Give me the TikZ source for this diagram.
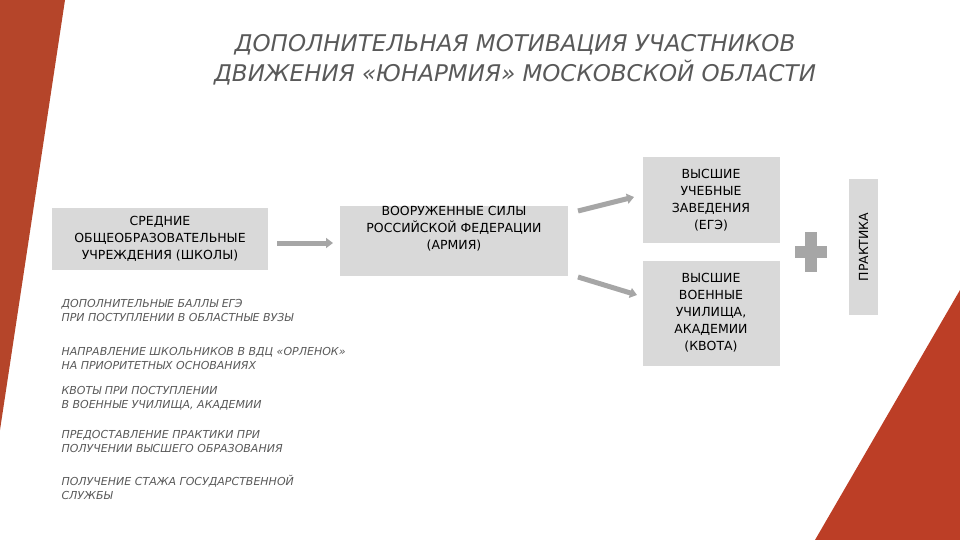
\documentclass[tikz,border=0pt]{standalone}
\usepackage{fontspec}
\setmainfont{DejaVu Sans}
\usetikzlibrary{arrows.meta}
\definecolor{rust}{HTML}{B5452A}
\definecolor{boxg}{HTML}{D9D9D9}
\definecolor{arrg}{HTML}{A6A6A6}
\definecolor{txtg}{HTML}{595959}
\begin{document}
\begin{tikzpicture}[x=1pt,y=-1pt,
  gbox/.style={fill=boxg,inner sep=0pt,align=center,text=black,font=\fontsize{12.5}{17}\selectfont},
  arr/.style={draw=arrg,line width=5pt,-{Triangle[length=7pt,width=10pt]}},
  item/.style={anchor=north west,align=left,text=txtg,font=\itshape\fontsize{11}{14}\selectfont}]
\useasboundingbox (0,0) rectangle (960,540);
\fill[rust] (0,0) -- (65,0) -- (0,430) -- cycle;
\fill[rust!90!red] (960,290) -- (960,540) -- (815,540) -- cycle;
\node[text=txtg,align=center,font=\itshape\fontsize{23}{30}\selectfont] (title) at (515,60) {ДОПОЛНИТЕЛЬНАЯ МОТИВАЦИЯ УЧАСТНИКОВ\\ДВИЖЕНИЯ «ЮНАРМИЯ» МОСКОВСКОЙ ОБЛАСТИ};
\node[gbox,minimum width=216pt,minimum height=62pt] (school) at (160,239) {СРЕДНИЕ\\ОБЩЕОБРАЗОВАТЕЛЬНЫЕ\\УЧРЕЖДЕНИЯ (ШКОЛЫ)};
\node[gbox,minimum width=228pt,minimum height=62pt] (army) at (454,241) {ВООРУЖЕННЫЕ СИЛЫ\\РОССИЙСКОЙ ФЕДЕРАЦИИ\\(АРМИЯ)\\[10pt]};
\node[gbox,minimum width=137pt,minimum height=85pt] (vuz) at (711,200) {ВЫСШИЕ\\УЧЕБНЫЕ\\ЗАВЕДЕНИЯ\\(ЕГЭ)};
\node[gbox,minimum width=137pt,minimum height=105pt] (vvu) at (711,313) {ВЫСШИЕ\\ВОЕННЫЕ\\УЧИЛИЩА,\\АКАДЕМИИ\\(КВОТА)};
\node[gbox,minimum width=136pt,minimum height=29pt,rotate=90] (prak) at (863.5,247) {ПРАКТИКА};
\fill[arrg] (795,246) rectangle (827,258);
\fill[arrg] (805,232) rectangle (817,272);
\coordinate (a1) at (277,243); \coordinate (a2) at (333,243);
\draw[arr] (a1) -- (a2);
\coordinate (b1) at (578,211); \coordinate (b2) at (634,197);
\draw[arr] (b1) -- (b2);
\coordinate (c1) at (578,277); \coordinate (c2) at (637,295);
\draw[arr] (c1) -- (c2);
\node[item] (i1) at (58,296) {ДОПОЛНИТЕЛЬНЫЕ БАЛЛЫ ЕГЭ\\ПРИ ПОСТУПЛЕНИИ В ОБЛАСТНЫЕ ВУЗЫ};
\node[item] (i2) at (58,344) {НАПРАВЛЕНИЕ ШКОЛЬНИКОВ В ВДЦ «ОРЛЕНОК»\\НА ПРИОРИТЕТНЫХ ОСНОВАНИЯХ};
\node[item] (i3) at (58,383) {КВОТЫ ПРИ ПОСТУПЛЕНИИ\\В ВОЕННЫЕ УЧИЛИЩА, АКАДЕМИИ};
\node[item] (i4) at (58,427) {ПРЕДОСТАВЛЕНИЕ ПРАКТИКИ ПРИ\\ПОЛУЧЕНИИ ВЫСШЕГО ОБРАЗОВАНИЯ};
\node[item] (i5) at (58,472) {ПОЛУЧЕНИЕ СТАЖА ГОСУДАРСТВЕННОЙ\\СЛУЖБЫ};
\end{tikzpicture}
\end{document}
